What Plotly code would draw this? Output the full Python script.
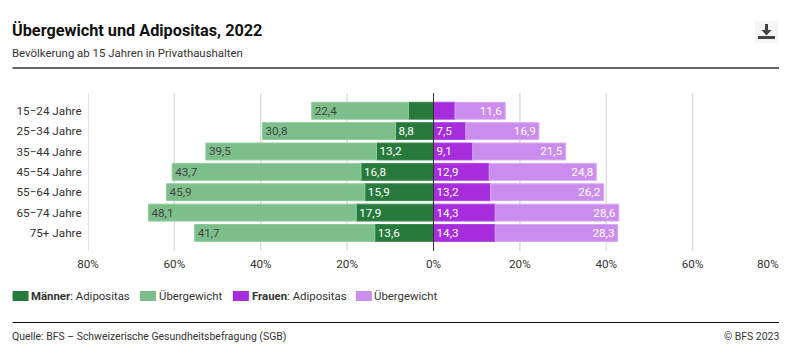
import plotly.graph_objects as go

ages = ["15−24 Jahre", "25−34 Jahre", "35−44 Jahre", "45−54 Jahre", "55−64 Jahre", "65−74 Jahre", "75+ Jahre"]
men_obese = [5.8, 8.8, 13.2, 16.8, 15.9, 17.9, 13.6]
men_over = [22.4, 30.8, 39.5, 43.7, 45.9, 48.1, 41.7]
women_obese = [5.0, 7.5, 9.1, 12.9, 13.2, 14.3, 14.3]
women_over = [11.6, 16.9, 21.5, 24.8, 26.2, 28.6, 28.3]
hide_label_below = 6
tick_vals = [-80, -60, -40, -20, 0, 20, 40, 60, 80]
tick_text = ["80%", "60%", "40%", "20%", "0%", "20%", "40%", "60%", ""]
grid_vals = [-80, -60, -40, -20, 20, 40, 60]

W, H = 800, 355
L, R, T, B = 87.5, 779, 93, 251
FONT = "Roboto"
GREEN_D, GREEN_L, PURPLE_D, PURPLE_L = "#287a3c", "#7dbf8b", "#a62cdc", "#cb8ded"
TXT = "#333333"
BASE = 11.4


def lab(vals):
    return [f"{v:.1f}".replace(".", ",") if v >= hide_label_below else "" for v in vals]


fig = go.Figure()
series = [
    ("Männer: Adipositas", [-v for v in men_obese], lab(men_obese), GREEN_D, "#ffffff", "end", "#3d8a50"),
    ("Männer: Übergewicht", [-v for v in men_over], lab(men_over), GREEN_L, "#444444", "end", "#8fcb9c"),
    ("Frauen: Adipositas", women_obese, lab(women_obese), PURPLE_D, "#ffffff", "start", "#b044e2"),
    ("Frauen: Übergewicht", women_over, lab(women_over), PURPLE_L, "#ffffff", "end", "#d8a8f2"),
]
for name, vals, text_, color, tcol, anchor, edge in series:
    fig.add_trace(go.Bar(
        y=ages, x=vals, name=name, orientation="h", text=text_,
        textposition="inside", insidetextanchor=anchor, textangle=0, constraintext="none",
        textfont=dict(family=FONT, size=BASE + 0.3, color=tcol),
        marker=dict(color=color, line=dict(color=edge, width=1)),
        hoverinfo="name+x", showlegend=False,
    ))

shapes = []
for g in grid_vals:
    shapes.append(dict(type="line", xref="x", yref="paper", x0=g, x1=g, y0=0, y1=1, layer="below",
                       line=dict(color="#dddddd", width=1.5)))
shapes.append(dict(type="line", xref="x", yref="paper", x0=0, x1=0, y0=0, y1=1, layer="above",
                   line=dict(color="#333333", width=1)))


def abs_rect(x0, y0, x1, y1, color):
    return dict(type="rect", xref="x domain", yref="y domain",
                x0=(x0 - L) / (R - L), x1=(x1 - L) / (R - L),
                y0=(B - y1) / (B - T), y1=(B - y0) / (B - T),
                fillcolor=color, line=dict(width=0), layer="above")


shapes.append(abs_rect(12, 67.2, 779, 68.8, "#333333"))
shapes.append(abs_rect(12, 322, 779, 323, "#111111"))

# download button
shapes.append(abs_rect(755, 21, 778, 43, "#f5f5f5"))
shapes.append(abs_rect(758, 36, 775, 39, "#444444"))
shapes.append(abs_rect(765, 24, 768, 31, "#444444"))
shapes.append(dict(type="path", xref="x domain", yref="y domain",
                   path="M {} {} L {} {} L {} {} Z".format(
                       (761.5 - L) / (R - L), (B - 30) / (B - T),
                       (771.5 - L) / (R - L), (B - 30) / (B - T),
                       (766.5 - L) / (R - L), (B - 35.5) / (B - T)),
                   fillcolor="#444444", line=dict(width=0), layer="above"))

ann = []


def text(x, y, s, size=12, color=TXT, xanchor="left"):
    ann.append(dict(text=s, xref="paper", yref="paper",
                    x=(x - L) / (R - L), y=(B - y) / (B - T),
                    xanchor=xanchor, yanchor="middle", showarrow=False,
                    font=dict(family=FONT, size=size, color=color), align="left",
                    xshift=-3 if xanchor == "left" else 2, yshift=0))


text(12, 30, "<b>Übergewicht und Adipositas, 2022</b>", size=16.25, color="#111111")
text(12, 53, "Bevölkerung ab 15 Jahren in Privathaushalten", size=BASE)
text(12, 336, "Quelle: BFS – Schweizerische Gesundheitsbefragung (SGB)", size=10.45)
text(779, 336, "© BFS 2023", size=10.45, xanchor="right")
text(779, 263.5, "80%", size=BASE + 0.3, xanchor="right")

legend_items = [
    (12, 28, GREEN_D, "<b>Männer</b>: Adipositas"),
    (139.5, 155.5, GREEN_L, "Übergewicht"),
    (232.5, 248.5, PURPLE_D, "<b>Frauen</b>: Adipositas"),
    (355.5, 371.5, PURPLE_L, "Übergewicht"),
]
for x0, x1, c, s in legend_items:
    shapes.append(abs_rect(x0, 291, x1, 301, c))
    text(x1 + 3.7, 296, s, size=BASE)

fig.update_layout(
    width=W, height=H, barmode="relative", bargap=0.17,
    margin=dict(l=L, r=W - R, t=T, b=H - B, pad=0),
    plot_bgcolor="white", paper_bgcolor="white",
    font=dict(family=FONT, size=12, color=TXT),
    xaxis=dict(range=[-80, 80], tickmode="array", tickvals=tick_vals, ticktext=tick_text,
               showgrid=False, zeroline=False, showline=False, ticks="outside", ticklen=2,
               tickcolor="rgba(0,0,0,0)", tickfont=dict(family=FONT, size=BASE + 0.3, color=TXT), fixedrange=True),
    yaxis=dict(categoryorder="array", categoryarray=ages, range=[6.885, -0.87],
               showgrid=False, zeroline=False, showline=False, ticks="outside", ticklen=3,
               tickcolor="rgba(0,0,0,0)", tickfont=dict(family=FONT, size=BASE + 0.3, color=TXT), fixedrange=True),
    shapes=shapes, annotations=ann, showlegend=False,
)
fig.write_html("out.html", config=dict(displayModeBar=False),
               post_script="document.body.style.margin='0';")
